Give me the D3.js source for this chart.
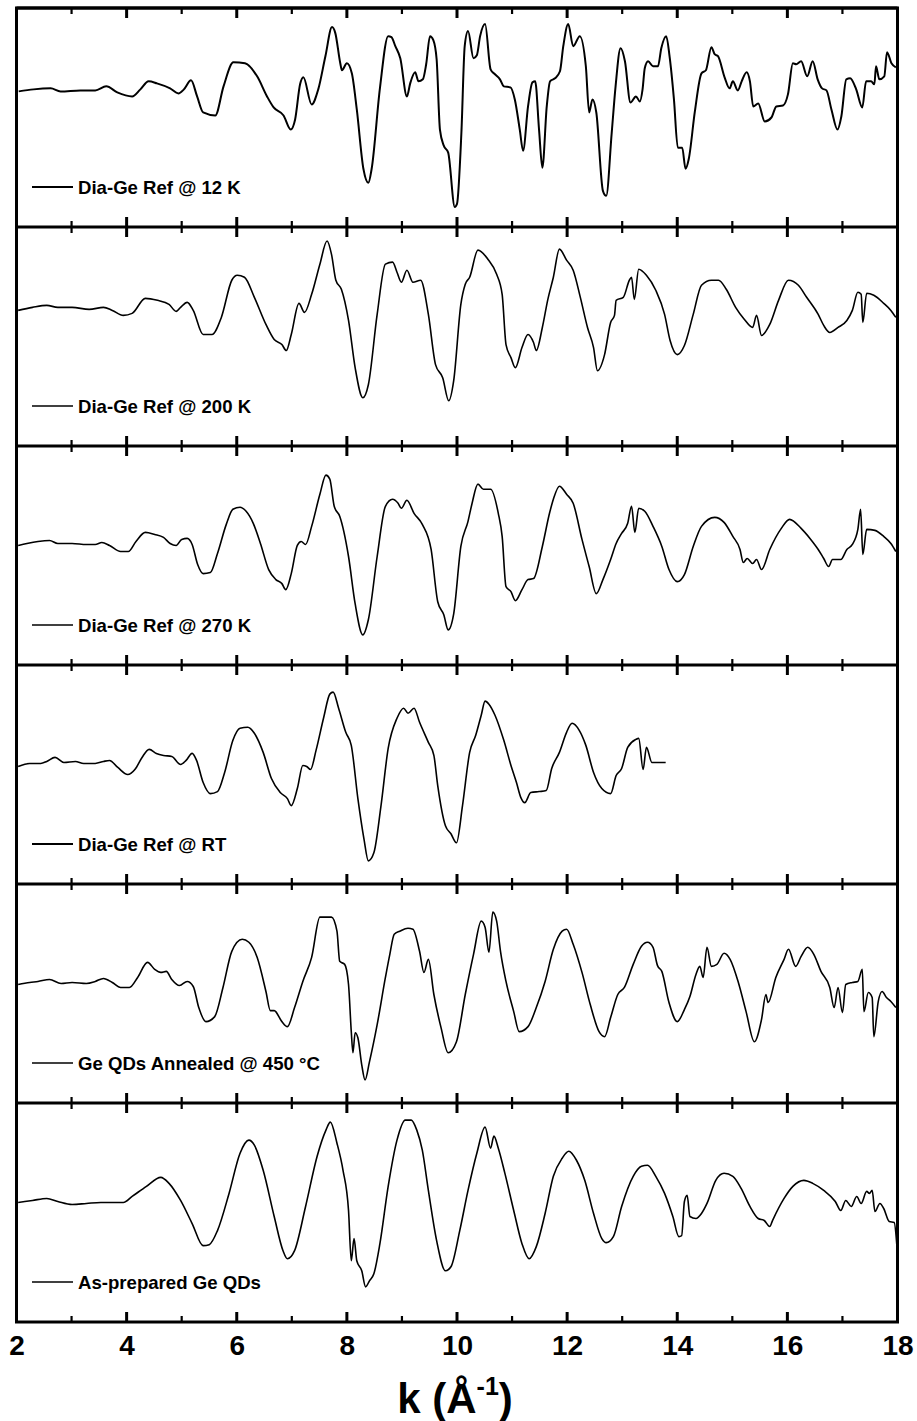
<!DOCTYPE html>
<html>
<head>
<meta charset="utf-8">
<script src="https://cdn.jsdelivr.net/npm/d3@7/dist/d3.min.js"></script>
<style>
  html, body { margin: 0; padding: 0; background: #fff; }
  svg { display: block; }
  text { font-family: "Liberation Sans", Arial, sans-serif; font-weight: bold; fill: #000; }
</style>
</head>
<body>
<svg id="chart" width="917" height="1421"></svg>
<script>
// ---------------- data ----------------
const majorTicks = [2, 4, 6, 8, 10, 12, 14, 16, 18];
const minorTicks = [3, 5, 7, 9, 11, 13, 15, 17];
const seriesLabels = [
  "Dia-Ge Ref @ 12 K",
  "Dia-Ge Ref @ 200 K",
  "Dia-Ge Ref @ 270 K",
  "Dia-Ge Ref @ RT",
  "Ge QDs Annealed @ 450 \u00B0C",
  "As-prepared Ge QDs"
];

// [k (Å^-1), chi signal (arb. units)]
const ref12K = [[2.04,0.17],[2.31,0.19],[2.62,0.20],[2.80,0.17],[3.16,0.18],[3.43,0.18],[3.63,0.22],[3.83,0.16],[4.10,0.12],[4.25,0.19],[4.40,0.27],[4.55,0.25],[4.79,0.20],[4.94,0.15],[5.04,0.19],[5.17,0.28],[5.28,0.12],[5.39,-0.04],[5.61,-0.07],[5.76,0.22],[5.94,0.46],[6.15,0.45],[6.37,0.32],[6.55,0.12],[6.67,0.01],[6.85,-0.07],[6.98,-0.21],[7.06,-0.11],[7.15,0.24],[7.21,0.31],[7.36,0.04],[7.48,0.19],[7.61,0.52],[7.73,0.81],[7.79,0.75],[7.88,0.45],[7.91,0.38],[8.00,0.45],[8.09,0.35],[8.18,-0.01],[8.30,-0.60],[8.39,-0.74],[8.45,-0.60],[8.60,0.20],[8.75,0.72],[8.81,0.71],[8.88,0.62],[8.97,0.50],[9.09,0.12],[9.15,0.25],[9.24,0.36],[9.30,0.27],[9.38,0.29],[9.44,0.44],[9.51,0.72],[9.57,0.68],[9.63,0.49],[9.69,-0.21],[9.76,-0.37],[9.84,-0.44],[9.96,-0.98],[10.00,-0.95],[10.08,-0.24],[10.14,0.62],[10.20,0.77],[10.30,0.50],[10.36,0.53],[10.42,0.72],[10.51,0.84],[10.61,0.39],[10.69,0.34],[10.78,0.29],[10.85,0.22],[10.97,0.21],[11.05,0.09],[11.14,-0.21],[11.20,-0.42],[11.29,0.02],[11.37,0.26],[11.42,0.27],[11.49,-0.21],[11.55,-0.59],[11.63,0.02],[11.69,0.27],[11.78,0.30],[11.87,0.37],[11.93,0.62],[12.02,0.84],[12.11,0.62],[12.23,0.72],[12.34,0.42],[12.40,-0.04],[12.46,0.09],[12.53,-0.04],[12.65,-0.82],[12.71,-0.87],[12.81,-0.24],[12.88,0.22],[12.97,0.60],[13.05,0.47],[13.15,0.06],[13.25,0.12],[13.32,0.07],[13.37,0.19],[13.41,0.40],[13.47,0.47],[13.56,0.42],[13.65,0.42],[13.71,0.60],[13.80,0.72],[13.86,0.52],[13.94,0.09],[14.01,-0.39],[14.09,-0.39],[14.15,-0.60],[14.21,-0.50],[14.32,-0.03],[14.44,0.35],[14.52,0.38],[14.62,0.61],[14.68,0.54],[14.74,0.52],[14.86,0.31],[14.95,0.20],[15.01,0.27],[15.10,0.18],[15.17,0.27],[15.26,0.36],[15.32,0.27],[15.38,0.02],[15.47,0.05],[15.59,-0.13],[15.71,-0.09],[15.80,0.02],[15.92,0.03],[16.01,0.14],[16.10,0.45],[16.16,0.44],[16.25,0.47],[16.36,0.32],[16.46,0.47],[16.55,0.29],[16.63,0.20],[16.71,0.18],[16.80,-0.01],[16.91,-0.21],[16.98,-0.08],[17.07,0.29],[17.14,0.30],[17.25,0.19],[17.36,0.01],[17.43,0.27],[17.52,0.27],[17.58,0.24],[17.61,0.42],[17.67,0.29],[17.76,0.32],[17.81,0.56],[17.89,0.45],[17.97,0.41]];

const ref200K = [[2.03,0.17],[2.29,0.20],[2.55,0.22],[2.75,0.20],[3.01,0.20],[3.32,0.18],[3.58,0.20],[3.74,0.17],[3.94,0.12],[4.10,0.14],[4.34,0.29],[4.56,0.27],[4.77,0.23],[4.90,0.16],[4.98,0.20],[5.10,0.25],[5.21,0.17],[5.39,-0.07],[5.55,-0.07],[5.72,0.10],[5.91,0.47],[6.01,0.52],[6.14,0.50],[6.32,0.30],[6.53,0.03],[6.68,-0.12],[6.82,-0.17],[6.90,-0.23],[6.99,-0.07],[7.13,0.24],[7.23,0.15],[7.36,0.33],[7.51,0.63],[7.64,0.86],[7.72,0.73],[7.80,0.47],[7.90,0.38],[8.03,0.07],[8.15,-0.40],[8.29,-0.70],[8.39,-0.57],[8.55,0.13],[8.70,0.63],[8.83,0.65],[8.91,0.55],[8.99,0.45],[9.09,0.57],[9.20,0.45],[9.34,0.47],[9.48,0.13],[9.61,-0.37],[9.74,-0.50],[9.85,-0.73],[9.94,-0.53],[10.07,0.23],[10.15,0.43],[10.23,0.50],[10.38,0.77],[10.56,0.68],[10.72,0.53],[10.82,0.33],[10.89,-0.17],[10.98,-0.30],[11.06,-0.40],[11.18,-0.20],[11.29,-0.07],[11.39,-0.15],[11.44,-0.23],[11.55,0.00],[11.65,0.28],[11.75,0.50],[11.86,0.78],[11.99,0.67],[12.11,0.57],[12.24,0.30],[12.37,0.00],[12.48,-0.20],[12.55,-0.43],[12.68,-0.27],[12.79,0.05],[12.86,0.12],[12.89,0.27],[13.02,0.30],[13.13,0.47],[13.17,0.50],[13.22,0.28],[13.30,0.58],[13.44,0.52],[13.61,0.37],[13.77,0.13],[13.87,-0.13],[14.00,-0.27],[14.13,-0.18],[14.29,0.13],[14.44,0.42],[14.62,0.47],[14.75,0.47],[14.89,0.38],[15.06,0.20],[15.22,0.08],[15.37,0.00],[15.44,0.12],[15.53,-0.08],[15.68,0.03],[15.84,0.27],[16.02,0.47],[16.20,0.42],[16.35,0.30],[16.56,0.13],[16.66,0.02],[16.77,-0.05],[16.92,0.00],[17.08,0.07],[17.18,0.17],[17.28,0.35],[17.34,0.33],[17.37,0.05],[17.44,0.34],[17.57,0.32],[17.75,0.24],[17.88,0.17],[17.97,0.10]];

const ref270K = [[2.03,0.01],[2.19,0.03],[2.39,0.05],[2.60,0.06],[2.75,0.03],[3.01,0.03],[3.27,0.02],[3.43,0.02],[3.55,0.04],[3.69,0.01],[3.89,-0.05],[4.03,-0.05],[4.17,0.05],[4.34,0.14],[4.51,0.12],[4.67,0.09],[4.79,0.03],[4.90,0.01],[5.00,0.07],[5.10,0.08],[5.19,0.02],[5.29,-0.18],[5.39,-0.27],[5.52,-0.26],[5.65,-0.07],[5.81,0.22],[5.93,0.37],[6.06,0.39],[6.17,0.35],[6.30,0.23],[6.43,0.03],[6.58,-0.23],[6.71,-0.33],[6.82,-0.37],[6.89,-0.43],[6.99,-0.27],[7.10,0.01],[7.17,0.05],[7.25,0.02],[7.36,0.20],[7.51,0.52],[7.62,0.71],[7.69,0.67],[7.77,0.40],[7.87,0.30],[8.03,-0.10],[8.15,-0.57],[8.29,-0.88],[8.39,-0.73],[8.55,-0.10],[8.70,0.40],[8.83,0.47],[8.93,0.43],[8.99,0.38],[9.09,0.46],[9.22,0.33],[9.37,0.22],[9.53,-0.03],[9.65,-0.55],[9.76,-0.68],[9.84,-0.83],[9.94,-0.67],[10.07,0.00],[10.20,0.25],[10.27,0.42],[10.38,0.62],[10.48,0.57],[10.61,0.57],[10.75,0.33],[10.82,0.10],[10.89,-0.40],[10.98,-0.45],[11.06,-0.54],[11.18,-0.43],[11.29,-0.33],[11.39,-0.32],[11.55,0.00],[11.68,0.33],[11.75,0.47],[11.86,0.60],[11.99,0.52],[12.11,0.43],[12.27,0.07],[12.40,-0.20],[12.53,-0.47],[12.65,-0.33],[12.79,-0.13],[12.89,0.03],[12.99,0.13],[13.10,0.23],[13.17,0.40],[13.23,0.14],[13.30,0.38],[13.41,0.35],[13.56,0.20],[13.72,0.00],[13.85,-0.23],[14.00,-0.35],[14.13,-0.28],[14.29,0.00],[14.44,0.20],[14.68,0.29],[14.85,0.24],[15.01,0.10],[15.14,-0.03],[15.20,-0.16],[15.27,-0.12],[15.37,-0.17],[15.44,-0.13],[15.53,-0.23],[15.68,-0.03],[15.89,0.18],[16.04,0.27],[16.25,0.18],[16.41,0.08],[16.56,-0.03],[16.66,-0.12],[16.75,-0.20],[16.82,-0.13],[16.97,-0.13],[17.08,-0.03],[17.18,0.02],[17.28,0.17],[17.33,0.37],[17.37,-0.08],[17.44,0.17],[17.59,0.16],[17.75,0.10],[17.88,0.03],[17.97,-0.05]];

const refRT = [[2.03,-0.01],[2.24,0.02],[2.44,0.02],[2.55,0.04],[2.70,0.08],[2.86,0.03],[3.07,0.04],[3.22,0.02],[3.43,0.02],[3.58,0.04],[3.69,0.05],[3.84,-0.02],[4.02,-0.09],[4.15,-0.04],[4.28,0.08],[4.41,0.16],[4.54,0.12],[4.67,0.10],[4.82,0.09],[4.98,0.01],[5.08,0.05],[5.19,0.12],[5.27,0.05],[5.39,-0.17],[5.52,-0.28],[5.65,-0.26],[5.78,-0.07],[5.93,0.25],[6.06,0.37],[6.20,0.38],[6.32,0.32],[6.48,0.13],[6.63,-0.13],[6.79,-0.27],[6.92,-0.33],[6.99,-0.40],[7.10,-0.23],[7.20,0.00],[7.27,-0.01],[7.34,-0.04],[7.44,0.15],[7.58,0.48],[7.69,0.71],[7.75,0.73],[7.85,0.57],[7.98,0.33],[8.08,0.20],[8.20,-0.33],[8.31,-0.73],[8.39,-0.95],[8.49,-0.87],[8.62,-0.40],[8.75,0.17],[8.91,0.47],[9.03,0.57],[9.11,0.52],[9.22,0.57],[9.32,0.43],[9.48,0.23],[9.58,0.10],[9.65,-0.20],[9.79,-0.60],[9.89,-0.68],[9.99,-0.77],[10.10,-0.40],[10.23,0.13],[10.34,0.30],[10.44,0.50],[10.51,0.64],[10.58,0.61],[10.69,0.50],[10.85,0.25],[10.98,0.00],[11.08,-0.17],[11.16,-0.32],[11.23,-0.37],[11.34,-0.27],[11.49,-0.26],[11.62,-0.25],[11.72,-0.03],[11.86,0.13],[11.99,0.33],[12.09,0.42],[12.22,0.35],[12.34,0.20],[12.48,-0.07],[12.63,-0.23],[12.79,-0.28],[12.89,-0.10],[12.99,-0.03],[13.10,0.18],[13.25,0.26],[13.30,0.27],[13.38,-0.04],[13.44,0.18],[13.54,0.03],[13.79,0.03]];

const qdAnnealed = [[2.03,0.00],[2.24,0.02],[2.39,0.03],[2.60,0.05],[2.81,0.01],[3.01,0.02],[3.27,0.01],[3.43,0.03],[3.58,0.06],[3.74,0.02],[3.89,-0.03],[4.05,-0.03],[4.20,0.07],[4.38,0.22],[4.51,0.15],[4.62,0.12],[4.72,0.13],[4.82,0.05],[4.96,-0.01],[5.10,0.03],[5.21,-0.02],[5.31,-0.23],[5.44,-0.37],[5.60,-0.32],[5.75,-0.03],[5.91,0.33],[6.10,0.45],[6.22,0.42],[6.37,0.27],[6.53,-0.07],[6.61,-0.26],[6.68,-0.26],[6.82,-0.37],[6.92,-0.42],[7.05,-0.23],[7.20,0.03],[7.36,0.27],[7.51,0.67],[7.72,0.67],[7.82,0.53],[7.87,0.23],[7.96,0.20],[8.03,0.00],[8.08,-0.47],[8.11,-0.68],[8.15,-0.48],[8.20,-0.53],[8.27,-0.80],[8.33,-0.95],[8.41,-0.77],[8.55,-0.40],[8.70,0.07],[8.78,0.30],[8.86,0.50],[8.96,0.53],[9.11,0.56],[9.20,0.55],[9.32,0.33],[9.40,0.12],[9.48,0.25],[9.58,-0.10],[9.71,-0.43],[9.84,-0.68],[9.99,-0.57],[10.15,-0.10],[10.30,0.30],[10.44,0.63],[10.51,0.57],[10.58,0.32],[10.65,0.72],[10.72,0.63],[10.79,0.33],[10.89,0.03],[11.03,-0.27],[11.13,-0.47],[11.29,-0.42],[11.44,-0.23],[11.60,0.03],[11.75,0.35],[11.91,0.53],[11.99,0.55],[12.11,0.40],[12.27,0.12],[12.42,-0.20],[12.58,-0.47],[12.68,-0.52],[12.79,-0.33],[12.92,-0.10],[13.04,-0.03],[13.20,0.20],[13.35,0.38],[13.46,0.42],[13.56,0.37],[13.64,0.19],[13.72,0.13],[13.85,-0.18],[14.00,-0.37],[14.13,-0.25],[14.23,-0.12],[14.34,0.10],[14.41,0.18],[14.47,0.07],[14.54,0.37],[14.62,0.18],[14.72,0.20],[14.85,0.31],[14.96,0.25],[15.11,0.02],[15.25,-0.27],[15.40,-0.57],[15.53,-0.35],[15.61,-0.10],[15.65,-0.18],[15.79,0.07],[15.94,0.25],[16.02,0.35],[16.15,0.18],[16.25,0.28],[16.37,0.37],[16.48,0.30],[16.61,0.13],[16.77,-0.03],[16.85,-0.23],[16.92,-0.03],[17.00,-0.28],[17.06,0.00],[17.18,0.02],[17.28,0.03],[17.36,0.15],[17.39,-0.27],[17.47,-0.08],[17.54,-0.13],[17.57,-0.52],[17.65,-0.17],[17.72,-0.07],[17.80,-0.13],[17.88,-0.17],[17.97,-0.23]];

const qdAsPrepared = [[2.03,0.01],[2.29,0.03],[2.55,0.05],[2.75,0.02],[3.01,-0.01],[3.27,0.00],[3.53,0.01],[3.79,0.01],[3.94,0.01],[4.10,0.07],[4.36,0.17],[4.62,0.26],[4.77,0.20],[4.98,0.03],[5.19,-0.20],[5.39,-0.42],[5.50,-0.41],[5.65,-0.27],[5.86,0.10],[6.06,0.50],[6.22,0.63],[6.32,0.58],[6.48,0.33],[6.68,-0.13],[6.84,-0.47],[6.92,-0.55],[7.05,-0.47],[7.25,-0.03],[7.46,0.47],[7.62,0.73],[7.70,0.81],[7.82,0.60],[7.93,0.33],[8.03,-0.07],[8.08,-0.57],[8.13,-0.35],[8.18,-0.57],[8.27,-0.67],[8.34,-0.83],[8.41,-0.77],[8.49,-0.70],[8.60,-0.40],[8.75,0.17],[8.91,0.63],[9.06,0.83],[9.17,0.83],[9.27,0.73],[9.37,0.53],[9.48,0.13],[9.63,-0.37],[9.79,-0.67],[9.89,-0.63],[10.05,-0.27],[10.20,0.13],[10.36,0.50],[10.51,0.76],[10.61,0.55],[10.67,0.67],[10.75,0.55],[10.87,0.30],[11.03,-0.07],[11.18,-0.40],[11.31,-0.55],[11.44,-0.43],[11.60,-0.10],[11.75,0.27],[11.91,0.45],[12.03,0.52],[12.17,0.43],[12.32,0.23],[12.48,-0.10],[12.63,-0.35],[12.71,-0.39],[12.84,-0.33],[12.99,-0.03],[13.20,0.27],[13.35,0.37],[13.46,0.38],[13.61,0.27],[13.77,0.10],[13.92,-0.13],[14.03,-0.33],[14.08,-0.32],[14.13,0.02],[14.18,0.08],[14.23,-0.13],[14.34,-0.15],[14.44,-0.10],[14.54,0.00],[14.70,0.23],[14.85,0.30],[15.01,0.27],[15.16,0.15],[15.32,-0.03],[15.47,-0.15],[15.58,-0.17],[15.68,-0.23],[15.73,-0.17],[15.94,0.05],[16.10,0.17],[16.30,0.23],[16.46,0.20],[16.66,0.13],[16.87,0.02],[16.97,-0.07],[17.06,0.03],[17.16,-0.03],[17.26,0.07],[17.34,0.00],[17.44,0.12],[17.49,0.10],[17.54,0.13],[17.59,-0.08],[17.68,0.00],[17.75,-0.05],[17.85,-0.18],[17.94,-0.19],[17.99,-0.43]];

const allSeries = [ref12K, ref200K, ref270K, refRT, qdAnnealed, qdAsPrepared];

// ---------------- layout ----------------
const plotLeft = 16.5, plotRight = 897.5, plotTop = 8, panelH = 219;
const nPanels = allSeries.length;
const plotBottom = plotTop + panelH * nPanels;

const svg = d3.select("#chart");
const x = d3.scaleLinear().domain([2, 18]).range([plotLeft, plotRight]);

const defs = svg.append("defs");
const tickLayer = svg.append("g").attr("class", "ticks");

allSeries.forEach((data, i) => {
  const y0 = plotTop + i * panelH;
  const y = d3.scaleLinear().domain([-1.18, 1]).range([y0 + panelH, y0]);
  const g = svg.append("g").attr("class", "panel");

  defs.append("clipPath").attr("id", "clip" + i)
    .append("rect").attr("x", plotLeft).attr("y", y0).attr("width", plotRight - plotLeft).attr("height", panelH);

  const line = d3.line().x(d => x(d[0])).y(d => y(d[1])).curve(d3.curveMonotoneX);
  g.append("path")
    .datum(data)
    .attr("clip-path", `url(#clip${i})`)
    .attr("d", line)
    .attr("fill", "none")
    .attr("stroke", "#000")
    .attr("stroke-width", i === 0 ? 2 : 1.6)
    .attr("stroke-linejoin", "round");

  // legend
  const ly = y0 + 179;
  g.append("line")
    .attr("x1", 32).attr("x2", 73).attr("y1", ly).attr("y2", ly)
    .attr("stroke", "#000").attr("stroke-width", (i === 0 || i === 3) ? 2.2 : 1.6);
  g.append("text")
    .attr("x", 78).attr("y", ly + 7)
    .attr("font-size", 18.6)
    .text(seriesLabels[i]);

  // inward ticks at top and bottom of each panel
  const tickDefs = [
    ...majorTicks.map(v => ({ v, len: 10, w: 3 })),
    ...minorTicks.map(v => ({ v, len: 6, w: 2.2 }))
  ];
  tickDefs.forEach(t => {
    tickLayer.append("line")
      .attr("x1", x(t.v)).attr("x2", x(t.v))
      .attr("y1", y0).attr("y2", y0 + t.len)
      .attr("stroke", "#000").attr("stroke-width", t.w);
    tickLayer.append("line")
      .attr("x1", x(t.v)).attr("x2", x(t.v))
      .attr("y1", y0 + panelH).attr("y2", y0 + panelH - t.len)
      .attr("stroke", "#000").attr("stroke-width", t.w);
  });

  // separator line
  g.append("line").attr("x1", plotLeft).attr("x2", plotRight).attr("y1", y0).attr("y2", y0)
    .attr("stroke", "#000").attr("stroke-width", 3);
});

tickLayer.raise();

// outer frame
svg.append("rect")
  .attr("x", plotLeft).attr("y", plotTop).attr("width", plotRight - plotLeft).attr("height", plotBottom - plotTop)
  .attr("fill", "none").attr("stroke", "#000").attr("stroke-width", 3);

// bottom tick labels
const labelAxis = svg.append("g").attr("transform", `translate(0,${plotBottom})`)
  .call(d3.axisBottom(x).tickValues(majorTicks).tickSize(0).tickPadding(13).tickFormat(d3.format("d")));
labelAxis.select(".domain").remove();
labelAxis.selectAll("text")
  .attr("font-size", 28)
  .attr("font-family", "'Liberation Sans', Arial, sans-serif")
  .attr("font-weight", "bold")
  .attr("fill", "#000");

// x axis title
const title = svg.append("text")
  .attr("x", (plotLeft + plotRight) / 2 - 2)
  .attr("y", 1413)
  .attr("text-anchor", "middle")
  .attr("font-size", 42);
title.append("tspan").text("k (\u00C5");
title.append("tspan").attr("font-size", 25).attr("dy", -18).text("-1");
title.append("tspan").attr("dy", 18).text(")");
</script>
</body>
</html>
